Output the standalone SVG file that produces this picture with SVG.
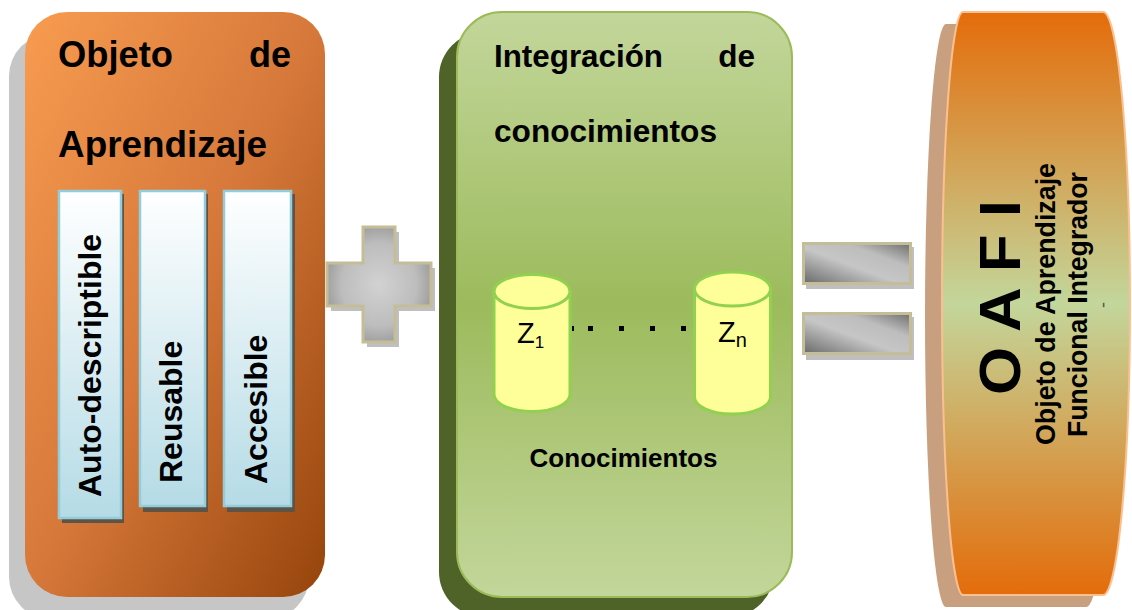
<svg xmlns="http://www.w3.org/2000/svg" width="1132" height="610" viewBox="0 0 1132 610">
<defs>
<linearGradient id="gOrange" x1="0" y1="0" x2="1" y2="1">
<stop offset="0" stop-color="#f89c50"/>
<stop offset="0.5" stop-color="#d6783a"/>
<stop offset="1" stop-color="#96440b"/>
</linearGradient>
<linearGradient id="gGreen" x1="0" y1="0" x2="0" y2="1">
<stop offset="0" stop-color="#c3d69b"/>
<stop offset="0.5" stop-color="#9cbb5c"/>
<stop offset="1" stop-color="#c3d69b"/>
</linearGradient>
<linearGradient id="gCol" x1="0" y1="0" x2="0" y2="1">
<stop offset="0" stop-color="#ffffff"/>
<stop offset="1" stop-color="#b5dbe6"/>
</linearGradient>
<linearGradient id="gOafi" x1="0" y1="0" x2="0" y2="1">
<stop offset="0" stop-color="#e46c0a"/>
<stop offset="0.5" stop-color="#c3d69b"/>
<stop offset="1" stop-color="#e46c0a"/>
</linearGradient>
<radialGradient id="gPlus" cx="0.5" cy="0.5" r="0.6">
<stop offset="0" stop-color="#d2d2d2"/>
<stop offset="0.6" stop-color="#bdbdbd"/>
<stop offset="1" stop-color="#8e8e8e"/>
</radialGradient>
<linearGradient id="gBar" x1="0" y1="1" x2="1" y2="0">
<stop offset="0" stop-color="#6a6a6a"/>
<stop offset="0.45" stop-color="#c6c6c6"/>
<stop offset="0.7" stop-color="#bdbdbd"/>
<stop offset="1" stop-color="#6e6e6e"/>
</linearGradient>
</defs>
<style>
text{font-family:"Liberation Sans",Arial,sans-serif;fill:#000}
.b{font-weight:bold}
.title{font-size:36px;font-weight:bold}
.title2{font-size:31.5px;font-weight:bold}
.col{fill:url(#gCol);stroke:#93cddc;stroke-width:2.5}
.colsh{fill:#5b5447}
.cyl{fill:#ffff99;stroke:#92d050;stroke-width:3}
.op{fill:url(#gPlus);stroke:#c4bd97;stroke-width:3}
.bar{fill:url(#gBar);stroke:#c4bd97;stroke-width:3}
.opsh{fill:#bfbfbf}
</style>

<g id="objeto-aprendizaje">
<rect x="9" y="34" width="300" height="585" rx="42" fill="#c6c6c6"/>
<rect x="25" y="12" width="300" height="585" rx="42" fill="url(#gOrange)"/>
<text class="title" x="58" y="67" textLength="115" lengthAdjust="spacingAndGlyphs">Objeto</text>
<text class="title" x="291" y="67" text-anchor="end">de</text>
<text class="title" x="58" y="157" textLength="209" lengthAdjust="spacingAndGlyphs">Aprendizaje</text>
<g id="col-auto">
<rect class="colsh" x="62" y="194" width="62" height="329"/>
<rect class="col" x="59" y="191" width="62" height="327"/>
<text class="b" font-size="32" transform="translate(101,497) rotate(-90)">Auto-descriptible</text>
</g>
<g id="col-reusable">
<rect class="colsh" x="143" y="194" width="65" height="318"/>
<rect class="col" x="140" y="191" width="65" height="315"/>
<text class="b" font-size="32" transform="translate(182,483) rotate(-90)">Reusable</text>
</g>
<g id="col-accesible">
<rect class="colsh" x="227" y="194" width="68" height="318"/>
<rect class="col" x="224" y="191" width="67" height="315"/>
<text class="b" font-size="32" transform="translate(267,484) rotate(-90)">Accesible</text>
</g>
</g>

<g id="plus">
<path class="opsh" d="M367,232 H399 V268 H435 V311 H399 V347 H367 V311 H331 V268 H367 Z"/>
<path class="op" d="M363,227 H395 V263 H431 V306 H395 V342 H363 V306 H327 V263 H363 Z"/>
</g>

<g id="integracion">
<rect x="439" y="32" width="335" height="585" rx="45" fill="#4f6228"/>
<rect x="457" y="12" width="335" height="585" rx="45" fill="url(#gGreen)" stroke="#9bbb59" stroke-width="2"/>
<text class="title2" x="494" y="67" textLength="169" lengthAdjust="spacingAndGlyphs">Integración</text>
<text class="title2" x="755" y="67" text-anchor="end">de</text>
<text class="title2" x="494" y="142" textLength="223" lengthAdjust="spacingAndGlyphs">conocimientos</text>
<text class="b" font-size="26" x="623.5" y="467" text-anchor="middle">Conocimientos</text>
</g>

<g id="z1">
<path class="cyl" d="M494,291.5 V394.5 A38,17 0 0 0 570,394.5 V291.5"/>
<ellipse class="cyl" cx="532" cy="291.5" rx="38" ry="17"/>
<text font-size="29" x="517" y="343">Z<tspan font-size="17" y="348">1</tspan></text>
</g>

<g id="zn">
<path class="cyl" d="M694.5,289 V397 A38,17 0 0 0 770.5,397 V289"/>
<ellipse class="cyl" cx="732.5" cy="289" rx="38" ry="17"/>
<text font-size="29" x="718" y="342">Z<tspan font-size="20" y="347">n</tspan></text>
</g>

<g id="connectors">
<line x1="572" y1="328.5" x2="686" y2="328.5" stroke="#000" stroke-width="5" stroke-dasharray="2 14 5 26 5 26 5 26 5 26"/>
</g>

<g id="equals">
<rect class="opsh" x="806" y="247" width="108" height="42"/>
<rect class="bar" x="803.5" y="243.5" width="107" height="40"/>
<rect class="opsh" x="806" y="317" width="108" height="43"/>
<rect class="bar" x="803.5" y="313.5" width="107" height="40"/>
</g>

<g id="oafi">
<path d="M946,24 H1086 A27,291.5 0 0 1 1086,607 H946 A21,291.5 0 0 1 946,24 Z" fill="#c9a07f"/>
<path d="M963,12 H1103 A27,291.5 0 0 1 1103,595 H963 A21,291.5 0 0 1 963,12 Z" fill="url(#gOafi)" stroke="#fac090" stroke-width="2"/>
<text class="b" font-size="58" transform="translate(1020,395) rotate(-90)" textLength="195" lengthAdjust="spacingAndGlyphs">O A F I</text>
<text class="b" font-size="27" transform="translate(1055,445) rotate(-90)" textLength="282" lengthAdjust="spacingAndGlyphs">Objeto de Aprendizaje</text>
<text class="b" font-size="27" transform="translate(1087,437) rotate(-90)" textLength="265" lengthAdjust="spacingAndGlyphs">Funcional Integrador</text>
<text font-size="18" fill="#555" transform="translate(1109,305) rotate(-90)" text-anchor="middle" style="fill:#555">-</text>
</g>
</svg>
